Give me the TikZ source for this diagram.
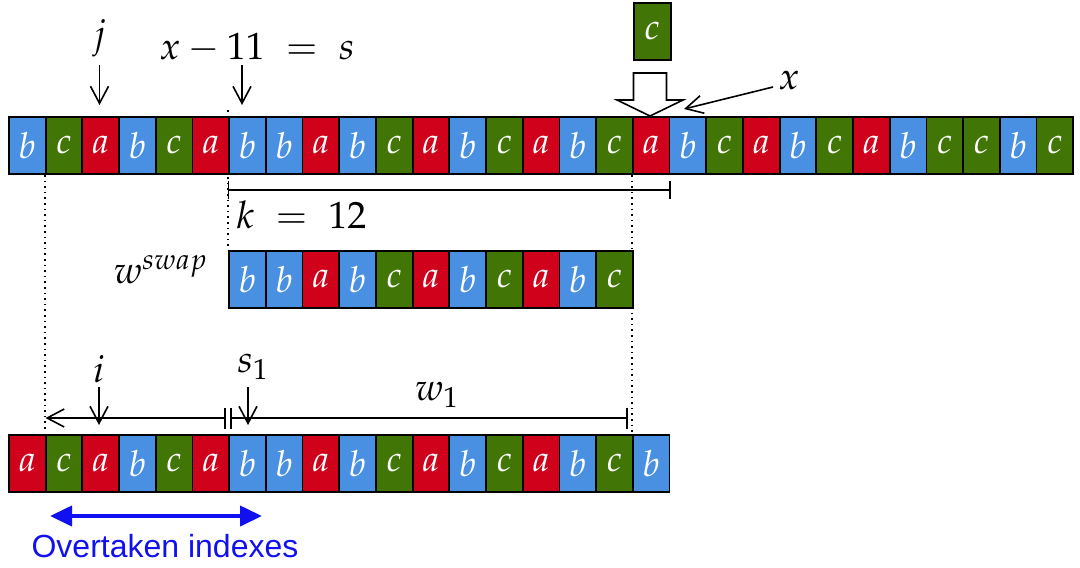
\documentclass[tikz,border=0pt]{standalone}
\usepackage{fontspec}
\usepackage{mathpazo}
\newfontfamily\labelsans{Liberation Sans}
\usetikzlibrary{arrows.meta,calc}
\definecolor{cola}{HTML}{D0021B}
\definecolor{colb}{HTML}{4A90E2}
\definecolor{colc}{HTML}{417505}
\definecolor{ovblue}{HTML}{1010F0}
\begin{document}
\begin{tikzpicture}[x=0.5pt,y=-0.5pt,
  cell/.style={draw=black, line width=0.9pt, minimum width=18.35pt, minimum height=28.5pt,
    inner sep=0pt, text=white, font=\fontsize{18}{20}\selectfont, anchor=north west},
  lab/.style={font=\fontsize{19}{22}\selectfont, inner sep=1pt},
  ptr/.style={-{Straight Barb[length=8.5pt,width=9pt]}, line width=0.8pt},
  dimline/.style={line width=0.7pt},
  guide/.style={dotted, line width=0.8pt},
  ovarrow/.style={ovblue, line width=2pt, {Triangle[length=11pt,width=10pt]}-{Triangle[length=11pt,width=10pt]}},
]
\useasboundingbox (0,0) rectangle (1080,567);

% guides
\coordinate (g1a) at (44.7,175); \coordinate (g1b) at (44.7,432);
\coordinate (g2a) at (228.2,110); \coordinate (g2b) at (228.2,250);
\coordinate (g3a) at (631.9,175); \coordinate (g3b) at (631.9,250);
\coordinate (g4a) at (631.9,307); \coordinate (g4b) at (631.9,434);
\draw[guide] (g1a) -- (g1b);
\draw[guide] (g2a) -- (g2b);
\draw[guide] (g3a) -- (g3b);
\draw[guide] (g4a) -- (g4b);

% top row
\foreach \l [count=\i] in {b,c,a,b,c,a,b,b,a,b,c,a,b,c,a,b,c,a,b,c,a,b,c,a,b,c,c,b,c}
  \node[cell, fill=col\l] (t\i) at ({8+(\i-1)*36.7},116) {$\l$};

% swap row
\foreach \l [count=\i] in {b,b,a,b,c,a,b,c,a,b,c}
  \node[cell, fill=col\l] (w\i) at ({228.2+(\i-1)*36.7},250) {$\l$};

% bottom row
\foreach \l [count=\i] in {a,c,a,b,c,a,b,b,a,b,c,a,b,c,a,b,c,b}
  \node[cell, fill=col\l] (u\i) at ({8+(\i-1)*36.7},434) {$\l$};

% inserted c and hollow arrow
\node[cell, fill=colc] (cbox) at (633,2) {$c$};
\draw[line width=0.8pt, fill=white] (633.5,73) -- (666.5,73) -- (666.5,100) -- (683,100)
  -- (650,116) -- (617,100) -- (633.5,100) -- cycle;

% x label
\node[lab] (xl) at (789,80) {$x$};
\coordinate (xs) at (773,87);
\coordinate (xt) at (684,109);
\draw[ptr] (xs) -- (xt);

% j
\node[lab] (jl) at (99.5,38) {$j$};
\coordinate (ja) at (99.5,65);
\coordinate (jb) at (99.5,105);
\draw[ptr] (ja) -- (jb);

% x-11 = s
\node[lab] (sl) at (257,48) {$x-11\;=\;s$};
\coordinate (sa) at (242,65);
\coordinate (sb) at (242,105);
\draw[ptr] (sa) -- (sb);

% k ruler
\coordinate (ka) at (228.2,181); \coordinate (kb) at (228.2,199);
\coordinate (kc) at (670,181); \coordinate (kd) at (670,199);
\coordinate (km) at (228.2,190); \coordinate (kn) at (670,190);
\draw[dimline] (ka) -- (kb);
\draw[dimline] (kc) -- (kd);
\draw[dimline] (km) -- (kn);
\node[lab, anchor=west] (kl) at (234,215) {$k\;=\;12$};

% w swap label
\node[lab, anchor=east] (wl) at (210,270) {$w^{swap}$};

% bottom measurement
\coordinate (ma) at (225,418); \coordinate (mb) at (45.5,418);
\coordinate (mc) at (231,418); \coordinate (md) at (627,418);
\draw[ptr] (ma) -- (mb);
\draw[dimline] (mc) -- (md);
\draw[dimline] (225,408) -- (225,429);
\draw[dimline] (231,408) -- (231,429);
\draw[dimline] (627,408) -- (627,429);

% i
\node[lab] (il) at (99,369) {$i$};
\coordinate (ia) at (99,387); \coordinate (ib) at (99,425);
\draw[ptr] (ia) -- (ib);

% s1
\node[lab] (s1l) at (253,367) {$s_1$};
\coordinate (s1a) at (248,387); \coordinate (s1b) at (248,425);
\draw[ptr] (s1a) -- (s1b);

% w1
\node[lab] (w1l) at (437,395) {$w_1$};

% overtaken
\coordinate (oa) at (50,516); \coordinate (ob) at (262,516);
\draw[ovarrow] (oa) -- (ob);
\node[font=\labelsans\fontsize{16}{18}\selectfont, text=ovblue, inner sep=0pt] (ov) at (165,546) {Overtaken indexes};
\end{tikzpicture}
\end{document}
